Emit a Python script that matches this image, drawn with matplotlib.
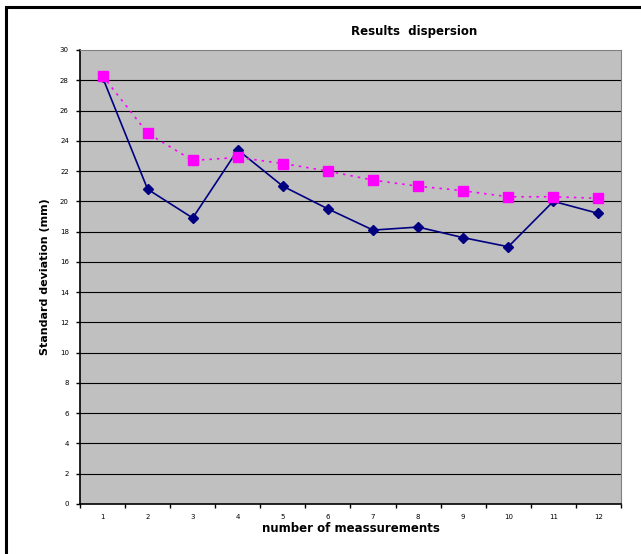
import matplotlib.pyplot as plt
from matplotlib.patches import Rectangle

measurements = list(range(1, 13))
std_dev = [28.2, 20.8, 18.9, 23.4, 21.0, 19.5, 18.1, 18.3, 17.6, 17.0, 20.0, 19.2]
cum_std = [28.3, 24.5, 22.7, 22.9, 22.5, 22.0, 21.4, 21.0, 20.7, 20.3, 20.3, 20.2]
y_ticks = list(range(0, 31, 2))

fig = plt.figure(figsize=(6.41, 5.54), dpi=100)
ax = fig.add_axes([80 / 641, 50 / 554, 541 / 641, 454 / 554])

# outer chart frame (Excel style)
fig.patches.append(Rectangle((6 / 641, -0.02), 1.2, 1 - 7 / 554 + 0.02,
                             transform=fig.transFigure, fill=False,
                             edgecolor="black", lw=2.2))

ax.set_facecolor("#c0c0c0")
for y in y_ticks[1:-1]:
    ax.axhline(y, color="black", lw=0.8, zorder=1)

ax.plot(measurements, std_dev, color="#000080", lw=1.2, marker="D",
        markersize=5, zorder=3)
ax.plot(measurements, cum_std, color="#ff00ff", lw=1.2, ls=(0, (1.5, 3)),
        marker="s", markersize=7, zorder=4)

ax.set_xlim(0.5, 12.5)
ax.set_ylim(0, 30)
ax.set_yticks(y_ticks)
ax.set_yticklabels([str(v) for v in y_ticks], fontsize=5)
ax.set_xticks([m - 0.5 for m in measurements] + [12.5])
ax.set_xticklabels([])
ax.set_xticks(measurements, minor=True)
ax.set_xticklabels([str(m) for m in measurements], minor=True, fontsize=5)
ax.tick_params(axis="x", which="minor", length=0, pad=7)
ax.tick_params(axis="x", which="major", length=3, width=1)
ax.tick_params(axis="y", length=3, width=1, pad=5)

for s in ["top", "right"]:
    ax.spines[s].set_color("#808080")
for s in ["left", "bottom"]:
    ax.spines[s].set_color("black")
    ax.spines[s].set_linewidth(1.2)

ax.set_ylabel("Standard deviation (mm)", fontsize=8, fontweight="bold",
              labelpad=7)
ax.set_xlabel("number of meassurements", fontsize=8.5, fontweight="bold",
              labelpad=2)
fig.text(414 / 641, 1 - 32 / 554, "Results  dispersion", fontsize=8.5,
         fontweight="bold", ha="center", va="center")

fig.savefig("out.png", dpi=100)
